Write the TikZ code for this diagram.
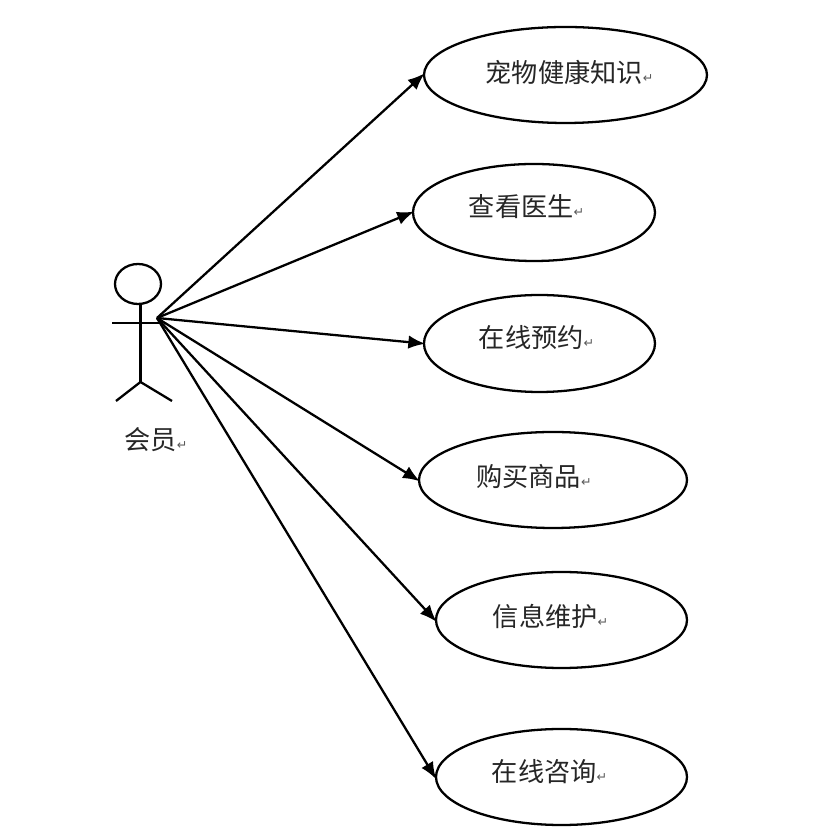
\documentclass[tikz,border=0pt]{standalone}
\usepackage{fontspec}
\usetikzlibrary{arrows.meta,shapes.geometric}
\setmainfont{Noto Sans CJK SC}
\newfontfamily\retfont{DejaVu Sans}
\newcommand{\retmark}{{\retfont\fontsize{3.6pt}{4pt}\selectfont\textcolor{black!65}{↵}}}

\tikzset{
  ucase/.style={ellipse, draw, line width=0.65pt, inner sep=0pt, fill=white},
  ulab/.style={inner sep=0pt, text=black!85, font=\fontsize{7.45pt}{9pt}\selectfont},
  uarr/.style={-{Latex[length=1.7mm,width=1.35mm]}, line width=0.65pt, shorten >=-0.25mm},
  uman/.style={line width=0.65pt}
}

\begin{document}
\begin{tikzpicture}
        \useasboundingbox (0,0) rectangle (8.37,8.37);

        \node[ucase, minimum width=2.83cm, minimum height=0.96cm] (u1) at (5.655,7.62) {};
        \node[ucase, minimum width=2.42cm, minimum height=0.97cm] (u2) at (5.34,6.245) {};
        \node[ucase, minimum width=2.31cm, minimum height=0.97cm] (u3) at (5.395,4.935) {};
        \node[ucase, minimum width=2.68cm, minimum height=0.96cm] (u4) at (5.53,3.57) {};
        \node[ucase, minimum width=2.51cm, minimum height=0.96cm] (u5) at (5.615,2.17) {};
        \node[ucase, minimum width=2.51cm, minimum height=0.96cm] (u6) at (5.615,0.60) {};

        \node[ulab] (t1) at (5.695,7.65) {宠物健康知识\retmark};
        \node[ulab] (t2) at (5.265,6.30) {查看医生\retmark};
        \node[ulab] (t3) at (5.365,4.99) {在线预约\retmark};
        \node[ulab] (t4) at (5.34,3.60) {购买商品\retmark};
        \node[ulab] (t5) at (5.505,2.21) {信息维护\retmark};
        \node[ulab] (t6) at (5.495,0.65) {在线咨询\retmark};

        % actor
        \node[ellipse, draw, line width=0.65pt, inner sep=0pt, minimum width=0.46cm, minimum height=0.40cm] (head) at (1.38,5.53) {};
        \coordinate (neck) at (1.405,5.33);
        \coordinate (hip) at (1.405,4.55);
        \coordinate (arml) at (1.12,5.14);
        \coordinate (armr) at (1.63,5.14);
        \coordinate (legl) at (1.16,4.36);
        \coordinate (legr) at (1.72,4.36);
        \coordinate (hand) at (1.57,5.19);
        \draw[uman] (neck) -- (hip);
        \draw[uman] (arml) -- (armr);
        \draw[uman] (legl) -- (hip) -- (legr);
        \node[ulab] (actor) at (1.56,3.97) {会员\retmark};

        \draw[uarr] (hand) -- (u1.west);
        \draw[uarr] (hand) -- (u2.west);
        \draw[uarr] (hand) -- (u3.west);
        \draw[uarr] (hand) -- (u4.west);
        \draw[uarr] (hand) -- (u5.west);
        \draw[uarr] (hand) -- (u6.west);
\end{tikzpicture}
\end{document}
